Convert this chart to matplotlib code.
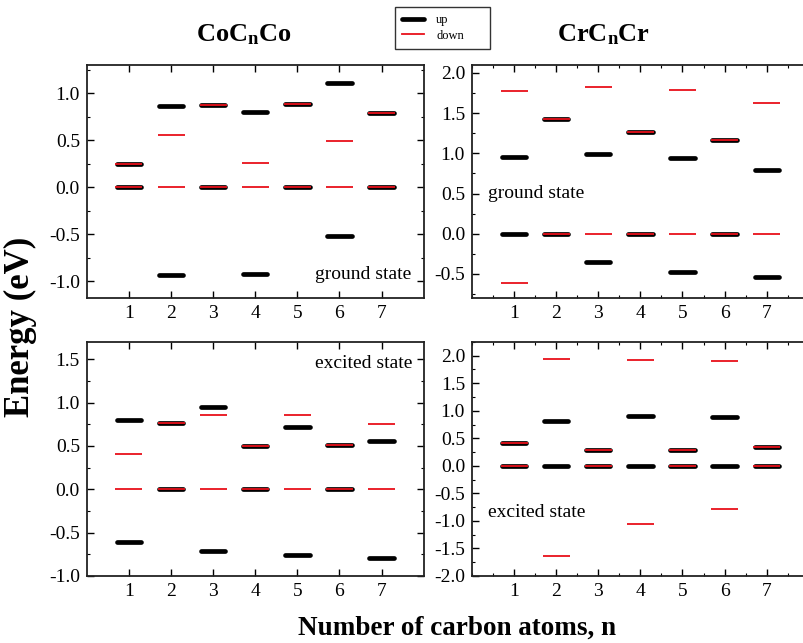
import numpy as np
import matplotlib
matplotlib.use('Agg')
import matplotlib.pyplot as plt
from matplotlib.lines import Line2D
from matplotlib.ticker import MultipleLocator, FormatStrFormatter

plt.rcParams['font.family'] = ['Liberation Serif', 'DejaVu Serif']
plt.rcParams['axes.unicode_minus'] = False
plt.rcParams['mathtext.fontset'] = 'custom'
plt.rcParams['mathtext.bf'] = 'Liberation Serif:bold'
plt.rcParams['mathtext.rm'] = 'Liberation Serif'

n_atoms = [1, 2, 3, 4, 5, 6, 7]

# energy levels (eV) for each n: spin up / spin down
co_ground_up = [[0.25, 0.0], [0.86, -0.94], [0.87, 0.0], [0.80, -0.93],
                [0.88, 0.0], [1.11, -0.52], [0.79, 0.0]]
co_ground_down = [[0.25, 0.0], [0.55, 0.0], [0.87, 0.0], [0.26, 0.0],
                  [0.88, 0.0], [0.49, 0.0], [0.79, 0.0]]

cr_ground_up = [[0.96, 0.0], [1.43, 0.0], [0.99, -0.35], [1.26, 0.0],
                [0.94, -0.48], [1.16, 0.0], [0.79, -0.54]]
cr_ground_down = [[1.78, -0.61], [1.43, 0.0], [1.83, 0.0], [1.26, 0.0],
                  [1.79, 0.0], [1.16, 0.0], [1.63, 0.0]]

co_exc_up = [[0.80, -0.61], [0.76, 0.0], [0.95, -0.71], [0.50, 0.0],
             [0.72, -0.76], [0.51, 0.0], [0.56, -0.79]]
co_exc_down = [[0.41, 0.0], [0.76, 0.0], [0.86, 0.0], [0.50, 0.0],
               [0.86, 0.0], [0.51, 0.0], [0.75, 0.0]]

cr_exc_up = [[0.41, 0.0], [0.81, 0.0], [0.29, 0.0], [0.90, 0.0],
             [0.28, 0.0], [0.88, 0.0], [0.35, 0.0]]
cr_exc_down = [[0.41, 0.0], [1.94, -1.63], [0.29, 0.0], [1.93, -1.06],
               [0.28, 0.0], [1.90, -0.78], [0.35, 0.0]]


def draw_levels(ax, up, down):
    for n, ups, downs in zip(n_atoms, up, down):
        ax.hlines(ups, n - 0.29, n + 0.29, colors='black', linewidth=3.4,
                  capstyle='round', zorder=3)
        ax.hlines(downs, n - 0.32, n + 0.32, colors='#e8101a',
                  linewidth=1.3, zorder=4)


def style_axis(ax, ylim, ymajor, minor_x=False, cut_right=False):
    ax.set_xlim(0, 8)
    ax.set_ylim(*ylim)
    ax.set_xticks(n_atoms)
    if minor_x:
        ax.xaxis.set_minor_locator(MultipleLocator(0.5))
    ax.yaxis.set_major_locator(MultipleLocator(ymajor))
    ax.yaxis.set_minor_locator(MultipleLocator(ymajor / 2))
    ax.yaxis.set_major_formatter(FormatStrFormatter('%.1f'))
    ax.tick_params(which='both', direction='in', top=True,
                   right=not cut_right, labelsize=14, colors='black')
    ax.tick_params(which='major', length=5, width=1.0, pad=5)
    ax.tick_params(which='minor', length=2.5, width=0.8)
    for sp in ax.spines.values():
        sp.set_linewidth(1.3)
        sp.set_color('#222222')
    if cut_right:
        # the right-hand panels run off the edge of the figure
        ax.spines['right'].set_visible(False)


fig = plt.figure(figsize=(8.04, 6.43), dpi=100)

ax_tl = fig.add_axes([0.108, 0.5366, 0.419, 0.3624])
ax_tr = fig.add_axes([0.587, 0.5366, 0.419, 0.3624])
ax_bl = fig.add_axes([0.108, 0.1042, 0.419, 0.364])
ax_br = fig.add_axes([0.587, 0.1042, 0.419, 0.364])

draw_levels(ax_tl, co_ground_up, co_ground_down)
draw_levels(ax_tr, cr_ground_up, cr_ground_down)
draw_levels(ax_bl, co_exc_up, co_exc_down)
draw_levels(ax_br, cr_exc_up, cr_exc_down)

style_axis(ax_tl, (-1.18, 1.3), 0.5)
style_axis(ax_tr, (-0.8, 2.1), 0.5, minor_x=True, cut_right=True)
style_axis(ax_bl, (-1.0, 1.7), 0.5)
style_axis(ax_br, (-2.0, 2.25), 0.5, minor_x=True, cut_right=True)

ax_tl.text(0.964, 0.10, 'ground state', transform=ax_tl.transAxes,
           ha='right', va='center', fontsize=14)
ax_tr.text(0.047, 0.45, 'ground state', transform=ax_tr.transAxes,
           ha='left', va='center', fontsize=14)
ax_bl.text(0.967, 0.91, 'excited state', transform=ax_bl.transAxes,
           ha='right', va='center', fontsize=14)
ax_br.text(0.047, 0.27, 'excited state', transform=ax_br.transAxes,
           ha='left', va='center', fontsize=14)

fig.text(244 / 804, 1 - 35 / 643, r'$\mathbf{CoC_nCo}$', ha='center',
         va='center', fontsize=19)
fig.text(604 / 804, 1 - 35 / 643, r'$\mathbf{CrC_nCr}$', ha='center',
         va='center', fontsize=19)

fig.text(20 / 804, 1 - 327 / 643, 'Energy (eV)', rotation=90, ha='center',
         va='center', fontsize=25, fontweight='bold')
fig.text(457 / 804, 1 - 628 / 643, 'Number of carbon atoms, n',
         ha='center', va='center', fontsize=19.5, fontweight='bold')

handles = [Line2D([], [], color='black', linewidth=3.4,
                  solid_capstyle='round'),
           Line2D([], [], color='#e8101a', linewidth=1.3)]
leg = fig.legend(handles, ['up', 'down'], loc='upper left', mode='expand',
                 bbox_to_anchor=(395 / 804, 1 - 46 / 643, 95 / 804,
                                 39 / 643),
                 fontsize=9, frameon=True, fancybox=False,
                 edgecolor='black', handlelength=1.7, handletextpad=1.0,
                 borderpad=0.6, labelspacing=0.25, borderaxespad=0)
leg.get_frame().set_linewidth(1.0)

fig.savefig('out.png', dpi=100)
